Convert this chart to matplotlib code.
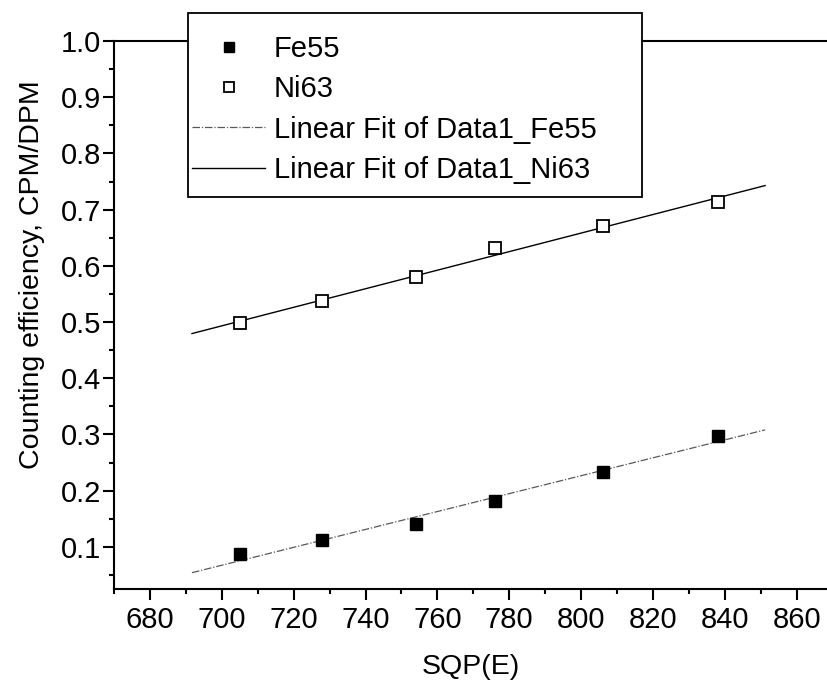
import numpy as np
import matplotlib.pyplot as plt
from matplotlib.patches import Rectangle
from matplotlib.ticker import MultipleLocator

plt.rcParams['font.family'] = ['Liberation Sans', 'DejaVu Sans']

# SQP(E) quench parameter of the standards
sqp = [705, 728, 754, 776, 806, 838]
# counting efficiency, CPM/DPM
fe55 = [0.087, 0.112, 0.140, 0.182, 0.234, 0.297]
ni63 = [0.498, 0.537, 0.580, 0.632, 0.671, 0.713]
fit_range = [691.7, 851.2]

fig = plt.figure(figsize=(8.28, 6.85), dpi=100)
ax = fig.add_axes([114 / 828, 1 - 589 / 685, 1 - 114 / 828, (589 - 41) / 685])

ax.plot(sqp, fe55, 's', color='black', ms=9, label='Fe55', zorder=3)
ax.plot(sqp, ni63, 's', mfc='white', mec='black', mew=1.3, ms=8.5, label='Ni63', zorder=3)

# linear fits over the same range as the original
xf = np.array(fit_range)
k, b = np.polyfit(sqp, fe55, 1)
ax.plot(xf, k * xf + b, color='0.35', lw=0.9, ls=(0, (6, 1.5, 1, 1.5)),
        label='Linear Fit of Data1_Fe55')
k, b = np.polyfit(sqp, ni63, 1)
ax.plot(xf, k * xf + b, color='black', lw=1.0, label='Linear Fit of Data1_Ni63')

ax.set_xlim(670, 868.7)
ax.set_ylim(0.025, 1.0)
ax.xaxis.set_minor_locator(MultipleLocator(10))
ax.yaxis.set_minor_locator(MultipleLocator(0.05))
ax.set_xticks(range(680, 861, 20))
ax.set_yticks(np.arange(1, 11) / 10)
ax.set_yticklabels([f'{v:.1f}' for v in np.arange(1, 11) / 10])
ax.tick_params(which='both', direction='out', width=1.5, labelsize=21, top=False, right=False)
ax.tick_params(which='major', length=8)
ax.tick_params(which='minor', length=3.8)
ax.tick_params(axis='y', which='major', pad=1.5)
ax.tick_params(axis='x', which='major', pad=4)

for s in ['left', 'bottom', 'top']:
    ax.spines[s].set_linewidth(1.5)
ax.spines['right'].set_visible(False)

ax.set_xlabel('SQP(E)', fontsize=20.5, labelpad=15)
ax.set_ylabel('Counting efficiency, CPM/DPM', fontsize=20.5)
ax.yaxis.set_label_coords(-0.096, 0.573)

# legend box like the Origin one (wider on the right)
fig.add_artist(Rectangle((188 / 828, 1 - 197 / 685), (642 - 188) / 828, (197 - 13) / 685,
                         transform=fig.transFigure, facecolor='white', edgecolor='black',
                         lw=1.3, zorder=4))
handles, labels = ax.get_legend_handles_labels()
fig.legend(handles, labels, loc='upper left', bbox_to_anchor=(188 / 828, 1 - 31 / 685),
           frameon=False, fontsize=21, borderpad=0.14, borderaxespad=0,
           handlelength=2.5, handletextpad=0.3, labelspacing=0.42, markerscale=0.8)

fig.savefig('out.png', dpi=100)
